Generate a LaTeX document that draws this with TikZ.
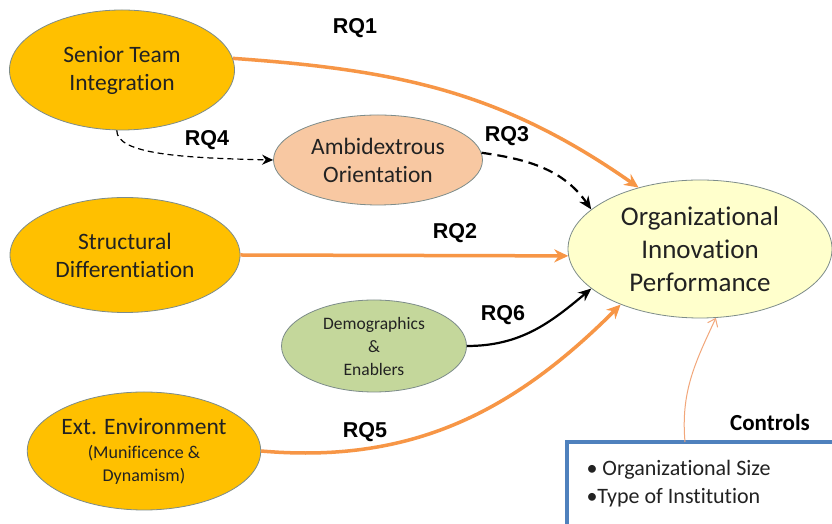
\documentclass[tikz,border=0pt]{standalone}
\usepackage{fontspec}
\setmainfont{Carlito}[Ligatures={NoCommon}]
\newfontfamily\rqfont{Liberation Sans}
\usetikzlibrary{shapes.geometric,arrows.meta}
\definecolor{gold}{HTML}{FFC000}
\definecolor{peach}{HTML}{F8C8A2}
\definecolor{olive}{HTML}{C4D79B}
\definecolor{paleyel}{HTML}{FFFFCC}
\definecolor{edgec}{HTML}{7D8C8A}
\definecolor{orarrc}{HTML}{F79646}
\definecolor{thinor}{HTML}{F2A77A}
\definecolor{boxblue}{HTML}{4F81BD}
\definecolor{txt}{HTML}{222222}
\begin{document}
\begin{tikzpicture}[x=1pt,y=1pt,
  ell/.style={ellipse, draw=edgec, line width=0.8pt, inner sep=0pt, align=center, text=txt},
  bigtxt/.style={font=\fontsize{23.5}{28}\selectfont},
  orarr/.style={draw=orarrc, line width=3.5pt, -{Stealth[length=14pt,width=13pt]}},
  blkarr/.style={draw=black, line width=2.2pt, -{Stealth[length=13pt,width=11pt]}},
  rq/.style={font=\rqfont\bfseries\fontsize{21.5}{25}\selectfont, text=black}]
\useasboundingbox (0,0) rectangle (832,524);
\fill[white] (0,0) rectangle (832,524);

% nodes
\node[ell, bigtxt, fill=gold, minimum width=225pt, minimum height=120pt] (sti) at (122,454) {Senior Team\\Integration};
\node[ell, bigtxt, fill=peach, minimum width=209pt, minimum height=90pt] (amb) at (378,364) {Ambidextrous\\Orientation};
\node[ell, bigtxt, fill=gold, minimum width=230pt, minimum height=115pt] (sd) at (125,269) {Structural\\Differentiation};
\node[ell, font=\fontsize{17.5}{23}\selectfont, fill=olive, minimum width=185pt, minimum height=92pt] (dem) at (374,178) {Demographics\\\&\\Enablers};
\node[ell, bigtxt, fill=gold, minimum width=225pt, minimum height=118pt] (ext) at (144,73) {Ext. Environment\\[-4pt]{\fontsize{18}{23}\selectfont (Munificence \&}\\[-5pt]{\fontsize{18}{23}\selectfont Dynamism)}};
\node[ell, font=\fontsize{27}{33}\selectfont, fill=paleyel, minimum width=264pt, minimum height=138pt] (oip) at (700,275) {Organizational\\Innovation\\Performance};

% controls box
\draw[boxblue, line width=4pt, fill=white] (567,82) rectangle (860,-20);
\coordinate (cb) at (685,82);
\node[anchor=west, font=\fontsize{22}{28}\selectfont, text=txt] (c1) at (583,54) {\textbullet\ Organizational Size};
\node[anchor=west, font=\fontsize{22}{28}\selectfont, text=txt] (c2) at (583,26) {\textbullet Type of Institution};
\node[font=\bfseries\fontsize{23}{28}\selectfont, text=black] (ctl) at (770,101) {Controls};

% connectors
\draw[orarr] (sti.6) to[out=-4, in=145] (oip.135);
\draw[black, line width=1.2pt, dash pattern=on 6pt off 4pt, -{Stealth[length=11pt,width=10pt]}]
  (sti.265) .. controls +(0,-24) and +(-90,2) .. (amb.west);
\draw[blkarr, dash pattern=on 10pt off 6pt] (amb.4) to[out=-8, in=125] (oip.160);
\draw[orarr] (sd.east) -- (oip.183);
\draw[blkarr] (dem.east) to[out=0, in=-140] (oip.200);
\draw[orarr] (ext.east) to[out=-5, in=-135] (oip.215);
\draw[thinor, line width=1pt, -{Straight Barb[length=7pt,width=11pt]}] (cb) to[out=95, in=-115] (oip.283);

% labels
\node[rq] (l1) at (355,496) {RQ1};
\node[rq] (l4) at (207,384) {RQ4};
\node[rq] (l3) at (507,388) {RQ3};
\node[rq] (l2) at (455,291) {RQ2};
\node[rq] (l6) at (503,209) {RQ6};
\node[rq] (l5) at (365,92) {RQ5};
\end{tikzpicture}
\end{document}
